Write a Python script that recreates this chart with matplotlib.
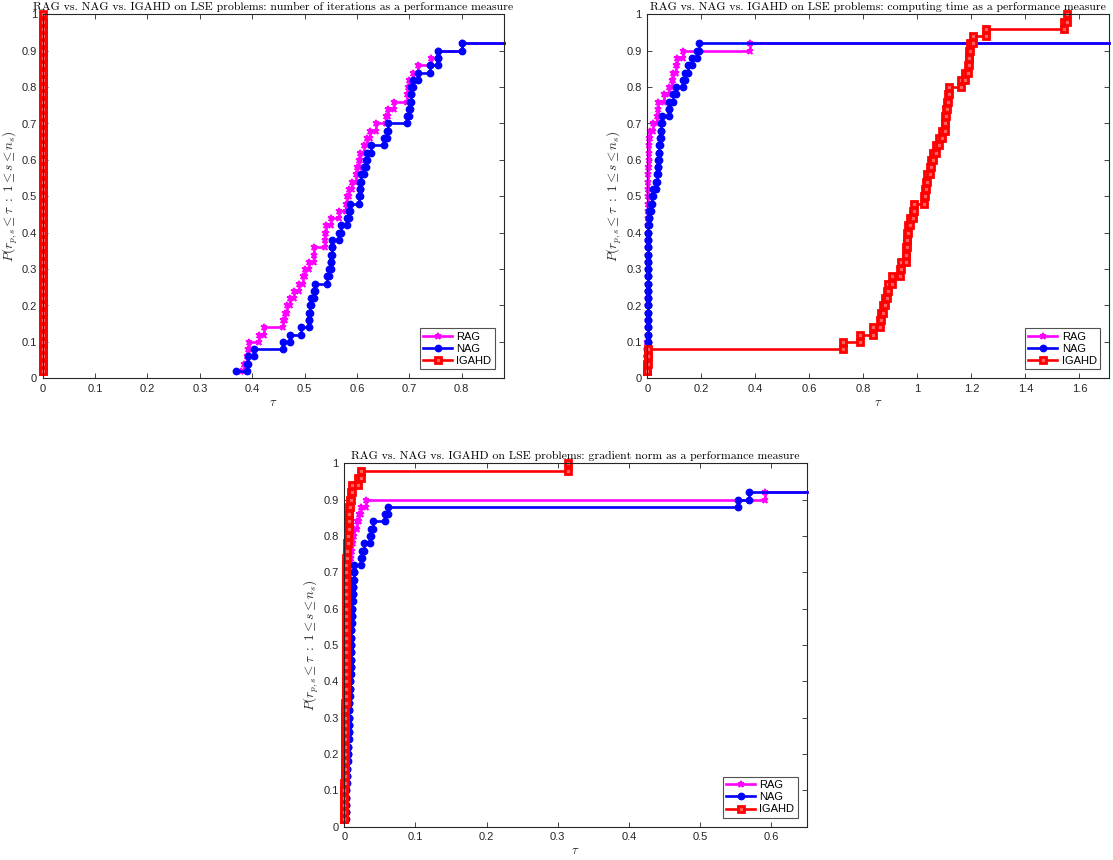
import numpy as np
import matplotlib
matplotlib.use('Agg')
import matplotlib.pyplot as plt
from matplotlib.ticker import FuncFormatter, MultipleLocator

plt.rcParams['mathtext.fontset'] = 'cm'
plt.rcParams['font.family'] = ['Liberation Sans', 'DejaVu Sans']

n_problems = 50
solvers = ['RAG', 'NAG', 'IGAHD']

# sorted performance ratios (log scale) per solver, unsolved problems left out
iter_rag = [0.379, 0.384, 0.390, 0.392, 0.394, 0.413, 0.422, 0.459, 0.463, 0.467,
            0.472, 0.480, 0.490, 0.496, 0.500, 0.508, 0.517, 0.518, 0.538, 0.539,
            0.540, 0.550, 0.566, 0.579, 0.581, 0.585, 0.591, 0.598, 0.600, 0.604,
            0.606, 0.614, 0.620, 0.625, 0.636, 0.655, 0.660, 0.670, 0.695, 0.697,
            0.700, 0.706, 0.716, 0.741, 0.754, 0.800]
iter_nag = [0.369, 0.390, 0.392, 0.404, 0.459, 0.472, 0.494, 0.508, 0.509, 0.510,
            0.512, 0.517, 0.519, 0.542, 0.546, 0.550, 0.551, 0.552, 0.553, 0.566,
            0.569, 0.580, 0.585, 0.587, 0.604, 0.605, 0.606, 0.608, 0.613, 0.618,
            0.620, 0.626, 0.651, 0.658, 0.660, 0.695, 0.700, 0.702, 0.703, 0.704,
            0.707, 0.717, 0.740, 0.754, 0.755, 0.800]
iter_igahd = [0.0, 0.0, 0.0, 0.0, 0.0, 0.0, 0.0, 0.0, 0.0, 0.0,
              0.0, 0.0, 0.0, 0.0, 0.0, 0.0, 0.0, 0.0, 0.0, 0.0,
              0.0, 0.0, 0.0, 0.0, 0.0, 0.0, 0.0, 0.0, 0.0, 0.0,
              0.0, 0.0, 0.0, 0.0, 0.0, 0.0, 0.0, 0.0, 0.0, 0.0,
              0.0, 0.0, 0.0, 0.0, 0.0, 0.0, 0.0, 0.0, 0.0, 0.0]

time_rag = [0.000, 0.000, 0.000, 0.000, 0.000, 0.001, 0.001, 0.001, 0.001, 0.001,
            0.002, 0.002, 0.002, 0.002, 0.002, 0.002, 0.002, 0.003, 0.003, 0.003,
            0.003, 0.003, 0.003, 0.003, 0.004, 0.004, 0.004, 0.004, 0.004, 0.005,
            0.005, 0.005, 0.006, 0.009, 0.022, 0.035, 0.038, 0.041, 0.062, 0.081,
            0.092, 0.094, 0.107, 0.110, 0.131, 0.382]
time_nag = [0.000, 0.000, 0.000, 0.000, 0.001, 0.001, 0.001, 0.001, 0.001, 0.001,
            0.002, 0.002, 0.002, 0.002, 0.002, 0.002, 0.003, 0.003, 0.003, 0.003,
            0.004, 0.005, 0.006, 0.013, 0.018, 0.022, 0.031, 0.036, 0.038, 0.039,
            0.042, 0.043, 0.046, 0.051, 0.052, 0.053, 0.079, 0.082, 0.094, 0.105,
            0.134, 0.138, 0.149, 0.166, 0.183, 0.192]
time_igahd = [0.000, 0.000, 0.001, 0.001, 0.725, 0.788, 0.835, 0.860, 0.866, 0.873,
              0.879, 0.886, 0.893, 0.906, 0.935, 0.939, 0.956, 0.958, 0.960, 0.962,
              0.965, 0.972, 0.985, 0.988, 1.024, 1.027, 1.031, 1.035, 1.047, 1.052,
              1.057, 1.070, 1.079, 1.092, 1.102, 1.104, 1.106, 1.109, 1.113, 1.116,
              1.161, 1.178, 1.188, 1.191, 1.192, 1.195, 1.205, 1.253, 1.541, 1.554]

grad_rag = [0.001, 0.001, 0.001, 0.002, 0.002, 0.002, 0.002, 0.003, 0.003, 0.003,
            0.003, 0.003, 0.004, 0.004, 0.004, 0.004, 0.004, 0.005, 0.005, 0.005,
            0.005, 0.005, 0.006, 0.006, 0.006, 0.006, 0.006, 0.006, 0.007, 0.007,
            0.007, 0.007, 0.007, 0.008, 0.008, 0.008, 0.009, 0.010, 0.011, 0.0127,
            0.013, 0.018, 0.021, 0.024, 0.031, 0.591]
grad_nag = [0.001, 0.002, 0.002, 0.003, 0.003, 0.003, 0.004, 0.004, 0.004, 0.005,
            0.005, 0.005, 0.006, 0.006, 0.006, 0.007, 0.007, 0.007, 0.008, 0.008,
            0.008, 0.009, 0.009, 0.009, 0.010, 0.010, 0.010, 0.010, 0.011, 0.011,
            0.011, 0.012, 0.012, 0.012, 0.013, 0.0136, 0.023, 0.025, 0.0277, 0.036,
            0.037, 0.041, 0.057, 0.061, 0.553, 0.569]
grad_igahd = [0.000, 0.000, 0.000, 0.000, 0.000, 0.000, 0.001, 0.001, 0.001, 0.001,
              0.001, 0.001, 0.001, 0.001, 0.001, 0.001, 0.001, 0.002, 0.002, 0.002,
              0.002, 0.002, 0.002, 0.002, 0.002, 0.002, 0.002, 0.002, 0.002, 0.003,
              0.003, 0.003, 0.003, 0.003, 0.003, 0.003, 0.003, 0.004, 0.004, 0.005,
              0.005, 0.006, 0.006, 0.007, 0.008, 0.009, 0.011, 0.0197, 0.0235, 0.3146]

measures = ['number of iterations', 'computing time', 'gradient norm']
xsteps = [0.1, 0.2, 0.1]
profiles = [[iter_rag, iter_nag, iter_igahd],
            [time_rag, time_nag, time_igahd],
            [grad_rag, grad_nag, grad_igahd]]

styles = {
    'RAG': dict(color='#ff00ff', marker='*', ms=5, mew=1.2),
    'NAG': dict(color='#0000ff', marker='o', ms=4.6, mew=1.0),
    'IGAHD': dict(color='#ff0000', marker='s', ms=4.2, mew=2.0, mfc='#ff6060'),
}

W, H = 1113, 860
boxes = [(42.7, 14.3, 461, 364), (647.3, 14.3, 461.7, 364), (344.3, 463.3, 462.4, 363.4)]

fig = plt.figure(figsize=(W / 100, H / 100), dpi=100)
dark = '#262626'

for box, measure, step, tau_lists in zip(boxes, measures, xsteps, profiles):
    l, t, w, h = box
    ax = fig.add_axes([l / W, (H - t - h) / H, w / W, h / H])
    xmax = 1.1 * max(max(v) for v in tau_lists)

    for name, tau in zip(solvers, tau_lists):
        tau = np.asarray(tau, dtype=float)
        frac = np.arange(1, len(tau) + 1) / n_problems
        xs = np.repeat(tau, 2)[1:]
        ys = np.repeat(frac, 2)[:-1]
        nmark = len(xs)
        if frac[-1] < 1:
            xs = np.append(xs, xmax)
            ys = np.append(ys, frac[-1])
        ax.plot(xs, ys, lw=1.9, markevery=list(range(nmark)), clip_on=False,
                label=name, **styles[name])

    ax.set_xlim(0, xmax)
    ax.set_ylim(0, 1)
    ax.xaxis.set_major_locator(MultipleLocator(step))
    ax.yaxis.set_major_locator(MultipleLocator(0.1))
    fmt = FuncFormatter(lambda v, p: '%g' % round(v, 6))
    ax.xaxis.set_major_formatter(fmt)
    ax.yaxis.set_major_formatter(fmt)
    ax.tick_params(direction='in', top=True, right=True, length=3.5, width=0.6,
                   labelsize=8, colors=dark, pad=4)
    for sp in ax.spines.values():
        sp.set_color(dark)
        sp.set_linewidth(0.8)

    ax.set_title('RAG vs. NAG vs. IGAHD on LSE problems: %s as a performance measure' % measure,
                 fontfamily='cmr10', fontsize=8.5, pad=3, color='black')
    ax.set_ylabel(r'$P(r_{p,s} \leq \tau\ :\ 1 \leq s \leq n_s)$', fontsize=9.5, color=dark, labelpad=1.5)
    ax.set_xlabel(r'$\tau$', fontsize=9, color=dark, labelpad=2)

    leg = ax.legend(loc='lower right', fontsize=8, frameon=True, fancybox=False,
                    edgecolor=dark, handlelength=2.6, labelspacing=0.2,
                    borderpad=0.3, handletextpad=0.4, borderaxespad=0.8)
    leg.get_frame().set_linewidth(0.8)

fig.savefig('out.png', dpi=100)
